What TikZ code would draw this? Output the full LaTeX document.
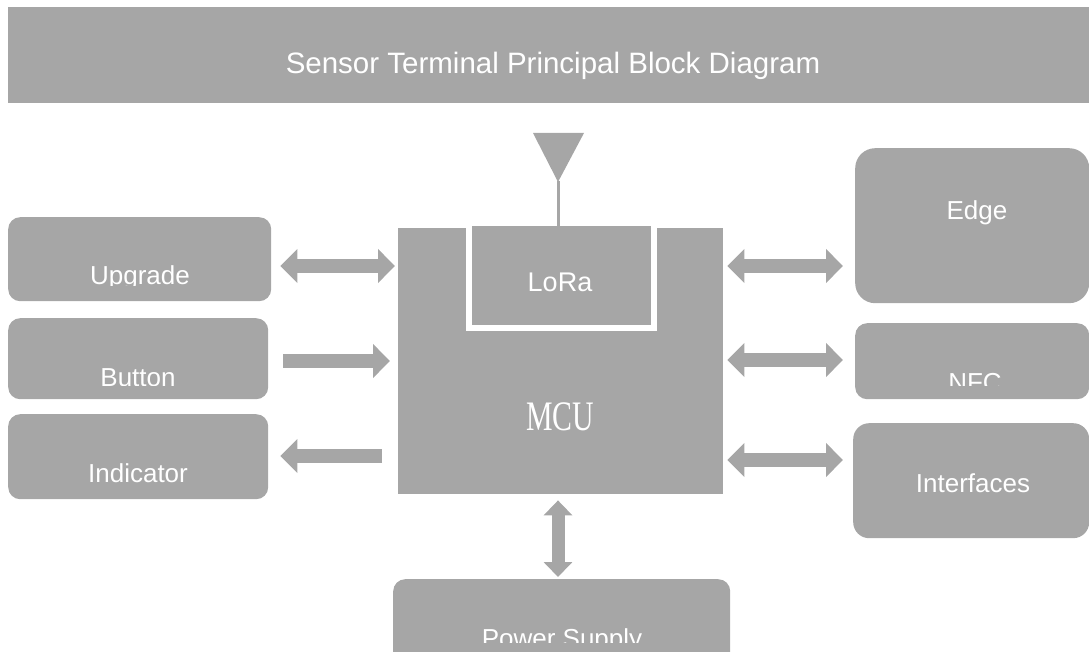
\documentclass[tikz,border=0pt]{standalone}
\usepackage{fontspec}
\setmainfont{Liberation Sans}
\newfontfamily\mcufont{Liberation Serif}
\usetikzlibrary{arrows.meta}
\definecolor{blk}{HTML}{A6A6A6}
\begin{document}
\begin{tikzpicture}[x=1pt,y=-1pt,
  box/.style={fill=blk, draw=none, rounded corners=12pt, inner sep=0pt, anchor=north west},
  lbl/.style={text=white, font=\fontsize{26}{30}\selectfont, anchor=base, inner sep=0pt},
  fat/.style={draw=blk, line width=14pt, >={Triangle[length=17pt,width=33pt]}},
  vfat/.style={draw=blk, line width=13pt, >={Triangle[length=15pt,width=28pt]}}
]
\useasboundingbox (0,0) rectangle (1089,652);
% title
\node[fill=blk, inner sep=0pt, anchor=north west, minimum width=1081pt, minimum height=96pt] (title) at (8,7) {};
\node[lbl, font=\fontsize{29.5}{34}\selectfont] (titlet) at (553,74) {Sensor Terminal Principal Block Diagram};
% left boxes
\node[box, minimum width=263pt, minimum height=84pt] (upg) at (8,217) {};
\node[box, minimum width=260pt, minimum height=81pt] (btn) at (8,318) {};
\node[box, minimum width=260pt, minimum height=85pt] (ind) at (8,414) {};
\begin{scope}
\clip (8,217) rectangle (271,285);
\node[lbl] (upgt) at (140,284) {Upgrade};
\end{scope}
\begin{scope}
\clip (8,318) rectangle (268,385);
\node[lbl] (btnt) at (138,386) {Button};
\end{scope}
\node[lbl] (indt) at (138,482) {Indicator};
% right boxes
\node[box, rounded corners=20pt, minimum width=234pt, minimum height=155pt] (edge) at (855,148) {};
\node[box, minimum width=234pt, minimum height=76pt] (nfc) at (855,323) {};
\node[box, rounded corners=16pt, minimum width=236pt, minimum height=115pt] (intf) at (853,423) {};
\node[lbl] (edget) at (977,220) {Edge};
\begin{scope}
\clip (855,323) rectangle (1089,385);
\node[lbl] (nfct) at (975,391) {NFC};
\end{scope}
\node[lbl] (intft) at (973,492) {Interfaces};
% power supply
\node[box, minimum width=337pt, minimum height=90pt] (pwr) at (393,579) {};
\begin{scope}
\clip (393,579) rectangle (730,642);
\node[lbl] (pwrt) at (562,647) {Power Supply};
\end{scope}
% MCU
\node[fill=blk, inner sep=0pt, anchor=north west, minimum width=325pt, minimum height=266pt] (mcu) at (398,228) {};
\fill[white] (466,226) rectangle (657,331);
\node[fill=blk, inner sep=0pt, anchor=north west, minimum width=179pt, minimum height=99pt] (lora) at (472,226) {};
\node[lbl, font=\fontsize{27}{32}\selectfont] (lorat) at (560,291) {LoRa};
\node[text=white, inner sep=0pt, anchor=base, font=\mcufont\fontsize{42}{46}\selectfont] (mcut) at (560,430) {\scalebox{0.71}[1]{MCU}};
% antenna
\fill[blk] (533,133) -- (584,133) -- (558,182) -- cycle;
\coordinate (ant) at (558,181);
\coordinate (lt) at (558,227);
\draw[blk, line width=3pt] (ant) -- (lt);
% arrows
\coordinate (y1) at (0,266);
\coordinate (y2) at (0,361);
\coordinate (y3) at (0,456);
\coordinate (r1) at (0,266);
\coordinate (r2) at (0,360);
\coordinate (r3) at (0,460);
\coordinate (vx) at (558,0);
\draw[fat, <->] ([xshift=9pt]upg.east |- y1) -- ([xshift=-3pt]mcu.west |- y1);
\draw[fat, ->] ([xshift=15pt]btn.east |- y2) -- ([xshift=-8pt]mcu.west |- y2);
\draw[fat, ->] ([xshift=-16pt]mcu.west |- y3) -- ([xshift=12pt]ind.east |- y3);
\draw[fat, <->] ([xshift=4pt]mcu.east |- r1) -- ([xshift=-12pt]edge.west |- r1);
\draw[fat, <->] ([xshift=4pt]mcu.east |- r2) -- ([xshift=-12pt]nfc.west |- r2);
\draw[fat, <->] ([xshift=4pt]mcu.east |- r3) -- ([xshift=-10pt]intf.west |- r3);
\draw[vfat, <->] ([yshift=-6pt]mcu.south -| vx) -- ([yshift=2pt]pwr.north -| vx);
\end{tikzpicture}
\end{document}
